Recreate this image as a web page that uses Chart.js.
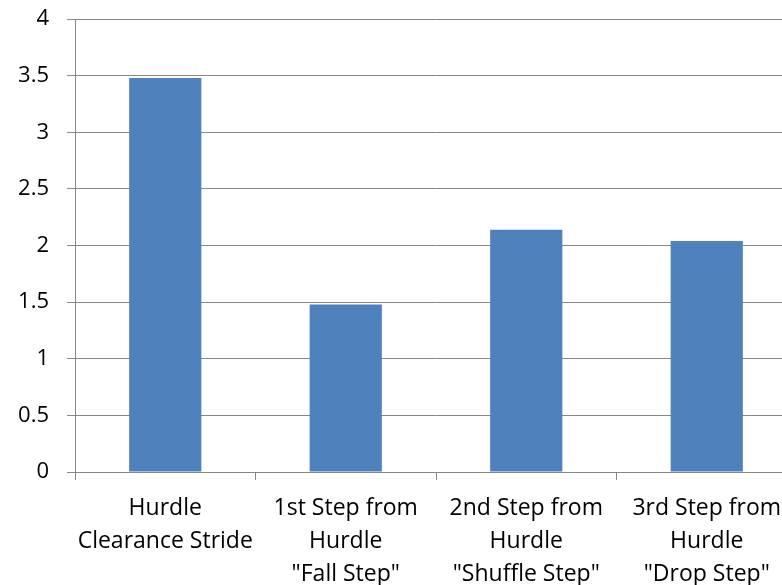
<!DOCTYPE html>
<html>
<head>
<meta charset="utf-8">
<script src="https://cdn.jsdelivr.net/npm/chart.js@4"></script>
<style>
  html, body { margin: 0; padding: 0; background: #fff; overflow: hidden; }
  #wrap { width: 782px; height: 585px; overflow: hidden; }
</style>
</head>
<body>
<div id="wrap"><canvas id="strideChart" width="800" height="585"></canvas></div>
<script>
// chart data
const categories = [
    ['Hurdle', 'Clearance Stride'],
    ['1st Step from', 'Hurdle', '"Fall Step"'],
    ['2nd Step from', 'Hurdle', '"Shuffle Step"'],
    ['3rd Step from', 'Hurdle', '"Drop Step"']
];
const strideValues = [3.48, 1.48, 2.14, 2.04];
const yTicks = [0, 0.5, 1, 1.5, 2, 2.5, 3, 3.5, 4];

document.addEventListener('DOMContentLoaded', function() {
    const gridGray = '#878787';
    const ctx = document.getElementById('strideChart').getContext('2d');
    const strideChart = new Chart(ctx, {
        type: 'bar',
        data: {
            labels: categories,
            datasets: [{
                data: strideValues,
                backgroundColor: '#4F81BD',
                borderWidth: 0,
                categoryPercentage: 1,
                barPercentage: 0.4
            }]
        },
        options: {
            responsive: false,
            animation: false,
            devicePixelRatio: 1,
            layout: { padding: { top: 19, right: 3, left: 0, bottom: 0 } },
            plugins: {
                legend: { display: false },
                tooltip: { enabled: false }
            },
            scales: {
                x: {
                    offset: true,
                    grid: {
                        offset: true,
                        drawOnChartArea: false,
                        tickLength: 8,
                        color: gridGray
                    },
                    border: { color: gridGray, width: 1 },
                    ticks: {
                        color: '#000',
                        maxRotation: 0,
                        autoSkip: false,
                        padding: 12,
                        font: { family: 'Open Sans', size: 23, lineHeight: 1.43 }
                    },
                    afterFit: function(scale) { scale.height = 113; }
                },
                y: {
                    min: 0,
                    max: 4,
                    afterBuildTicks: function(scale) {
                        scale.ticks = yTicks.map(v => ({ value: v }));
                    },
                    grid: {
                        color: gridGray,
                        tickLength: 8
                    },
                    border: { color: gridGray, width: 1 },
                    ticks: {
                        color: '#000',
                        padding: 18,
                        font: { family: 'Open Sans', size: 22 },
                        callback: function(value) { return String(value); }
                    },
                    afterFit: function(scale) {
                        scale.width = 75;
                        scale.paddingTop = 0;
                        scale.paddingBottom = 0;
                    }
                }
            }
        }
    });
});
</script>
</body>
</html>
